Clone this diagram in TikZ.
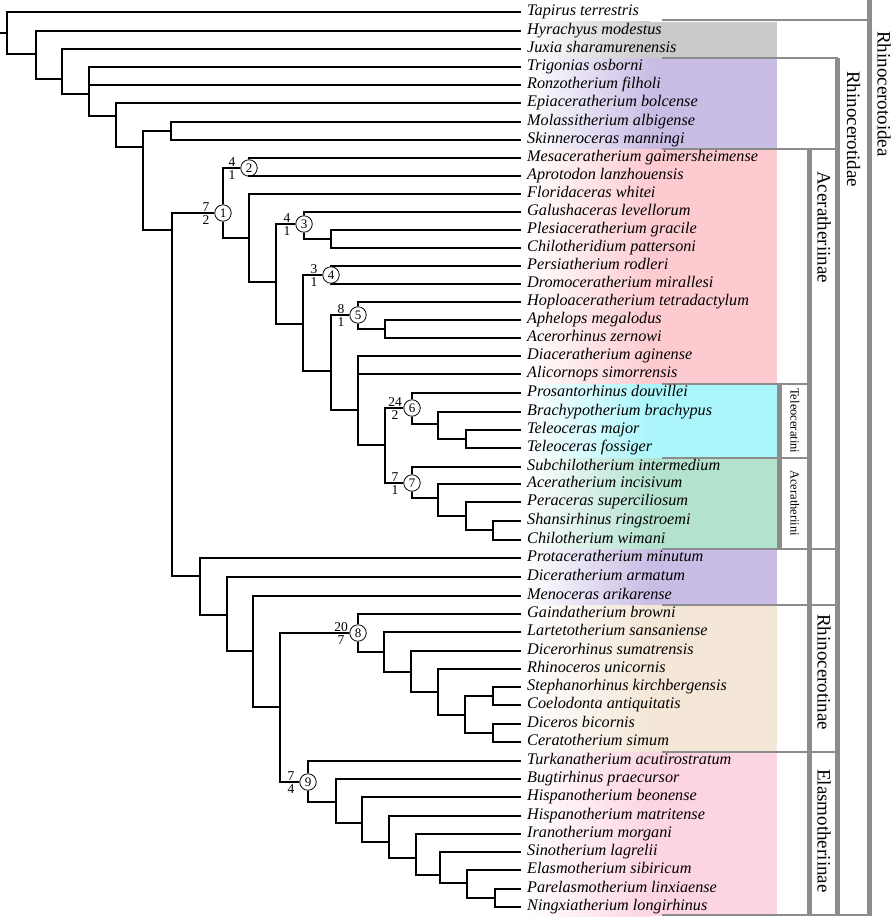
\documentclass[tikz,border=0pt]{standalone}
\usepackage{fontspec}
\setmainfont{Liberation Serif}
\definecolor{bgrey}{RGB}{201,202,202}
\definecolor{blilac}{RGB}{201,189,229}
\definecolor{bpink}{RGB}{253,203,207}
\definecolor{bcyan}{RGB}{170,246,251}
\definecolor{bgreen}{RGB}{179,226,207}
\definecolor{bbeige}{RGB}{244,231,215}
\definecolor{bpinktwo}{RGB}{253,212,228}
\definecolor{bargrey}{RGB}{140,140,140}
\begin{document}
\begin{tikzpicture}[x=1pt,y=-1pt]

    \tikzset{taxon/.style={anchor=west,inner xsep=6pt,inner ysep=0pt,text height=10pt,text depth=3pt,font=\fontsize{16.2}{17}\selectfont\itshape},
        clade/.style={draw,circle,fill=white,line width=0.8pt,inner sep=0pt,minimum size=16.5pt,font=\fontsize{13}{13}\selectfont},
        supp/.style={inner sep=0.5pt,font=\fontsize{13.5}{14}\selectfont},
        grouplabel/.style={rotate=-90,anchor=west,inner sep=0pt,font=\fontsize{19}{19}\selectfont},
        tribelabel/.style={rotate=-90,anchor=west,inner sep=0pt,font=\fontsize{12.5}{13}\selectfont},
        greybar/.style={draw=bargrey,line width=5pt},
        sepline/.style={draw=bargrey,line width=2pt}}
    \useasboundingbox (0,0) rectangle (896,919);

    % coloured bands behind the names
    \foreach \col/\ya/\yb in {bgrey/21.5/58,blilac/58/149,bpink/149/384,bcyan/384/458,bgreen/458/549,blilac/549/605,bbeige/605/752,bpinktwo/752/916}
    {
        \shade[left color=white,right color=\col] (526,\ya) rectangle (650,\yb);
        \fill[\col] (649.5,\ya) rectangle (777,\yb);
    }
    \foreach \ya/\xb in {20/869.5,58/837.5,149/837.5,384/809.5,458/809.5,549/837.5,605/837.5,752/837.5,915/872}
        \draw[sepline] (662,\ya) -- (\xb,\ya);
    \draw[greybar] (869.5,0) -- (869.5,916);
    \draw[greybar] (837.5,58) -- (837.5,916);
    \draw[greybar] (809.5,149) -- (809.5,916);
    \draw[greybar,line width=4.5pt] (779.5,384) -- (779.5,549);

    \node[grouplabel] (l1) at (884,31) {Rhinocerotoidea};
    \node[grouplabel] (l2) at (853.5,71) {Rhinocerotidae};
    \node[grouplabel] (l3) at (824,171) {Aceratheriinae};
    \node[grouplabel] (l4) at (824,614) {Rhinocerotinae};
    \node[grouplabel] (l5) at (824,769) {Elasmotheriinae};
    \node[tribelabel] (l6) at (795,388) {Teleoceratini};
    \node[tribelabel] (l7) at (795,470) {Aceratheriini};

    % terminal taxa
    \foreach \name/\ypos [count=\i] in {Tapirus terrestris/12,Hyrachyus modestus/31,Juxia sharamurenensis/49,
        Trigonias osborni/67,Ronzotherium filholi/85,Epiaceratherium bolcense/103,Molassitherium albigense/122,
        Skinneroceras manningi/140,Mesaceratherium gaimersheimense/158,Aprotodon lanzhouensis/176,
        Floridaceras whitei/194,Galushaceras levellorum/212,Plesiaceratherium gracile/230,
        Chilotheridium pattersoni/248,Persiatherium rodleri/266,Dromoceratherium mirallesi/284,
        Hoploaceratherium tetradactylum/302,Aphelops megalodus/320,Acerorhinus zernowi/338,
        Diaceratherium aginense/356,Alicornops simorrensis/374,Prosantorhinus douvillei/393,
        Brachypotherium brachypus/412,Teleoceras major/430,Teleoceras fossiger/448,
        Subchilotherium intermedium/467,Aceratherium incisivum/484,Peraceras superciliosum/502,
        Shansirhinus ringstroemi/521,Chilotherium wimani/540,Protaceratherium minutum/558,
        Diceratherium armatum/577,Menoceras arikarense/596,Gaindatherium browni/614,
        Lartetotherium sansaniense/632,Dicerorhinus sumatrensis/651,Rhinoceros unicornis/669,
        Stephanorhinus kirchbergensis/687,Coelodonta antiquitatis/705,Diceros bicornis/724,
        Ceratotherium simum/742,Turkanatherium acutirostratum/761,Bugtirhinus praecursor/779,
        Hispanotherium beonense/797,Hispanotherium matritense/816,Iranotherium morgani/834,
        Sinotherium lagrelii/852,Elasmotherium sibiricum/870,Parelasmotherium linxiaense/889,
        Ningxiatherium longirhinus/907}
        \node[taxon] (t\i) at (521,\ypos) {\name};

    % inner nodes
    \coordinate (n0) at (0,33);
    \coordinate (n1) at (7,33);
    \coordinate (n2) at (36,54);
    \coordinate (n3) at (62,79);
    \coordinate (n4) at (89,94);
    \coordinate (n5) at (116,116);
    \coordinate (n6) at (143,147);
    \coordinate (n7) at (171,131);
    \coordinate (n8) at (172,230);
    \node[clade] (c1) at (223,213) {1};
    \node[clade] (c2) at (249,168) {2};
    \coordinate (n9) at (249,238);
    \coordinate (n10) at (276,282);
    \node[clade] (c3) at (304,224) {3};
    \coordinate (n11) at (331,239);
    \coordinate (n12) at (303,324);
    \node[clade] (c4) at (331,275) {4};
    \coordinate (n13) at (331,371);
    \node[clade] (c5) at (358,315) {5};
    \coordinate (n14) at (385,329);
    \coordinate (n15) at (358,410);
    \coordinate (n16) at (385,445);
    \node[clade] (c6) at (412,408) {6};
    \coordinate (n17) at (438,424);
    \coordinate (n18) at (466,439);
    \node[clade] (c7) at (412,483) {7};
    \coordinate (n19) at (438,498);
    \coordinate (n20) at (466,516);
    \coordinate (n21) at (493,530);
    \coordinate (n22) at (200,576);
    \coordinate (n23) at (227,615);
    \coordinate (n24) at (253,651);
    \coordinate (n25) at (280,707);
    \node[clade] (c8) at (358,633) {8};
    \coordinate (n26) at (384,652);
    \coordinate (n27) at (411,672);
    \coordinate (n28) at (438,692);
    \coordinate (n29) at (465,715);
    \coordinate (n30) at (493,696);
    \coordinate (n31) at (493,733);
    \node[clade] (c9) at (308,782) {9};
    \coordinate (n32) at (336,802);
    \coordinate (n33) at (362,823);
    \coordinate (n34) at (389,842);
    \coordinate (n35) at (416,858);
    \coordinate (n36) at (440,875);
    \coordinate (n37) at (467,883);
    \coordinate (n38) at (495,898);

    \begin{scope}[line width=1.3pt]
        \foreach \a/\b in {n0/n1,n1/t1,n1/n2,n2/t2,n2/n3,n3/t3,n3/n4,n4/t4,n4/t5,n4/n5,n5/t6,n5/n6,
            n6/n7,n6/n8,n7/t7,n7/t8,n8/c1,n8/n22,c1/c2,c1/n9,c2/t9,c2/t10,n9/t11,n9/n10,
            n10/c3,n10/n12,c3/t12,c3/n11,n11/t13,n11/t14,n12/c4,n12/n13,c4/t15,c4/t16,
            n13/c5,n13/n15,c5/t17,c5/n14,n14/t18,n14/t19,n15/t20,n15/t21,n15/n16,
            n16/c6,n16/c7,c6/t22,c6/n17,n17/t23,n17/n18,n18/t24,n18/t25,
            c7/t26,c7/n19,n19/t27,n19/n20,n20/t28,n20/n21,n21/t29,n21/t30,
            n22/t31,n22/n23,n23/t32,n23/n24,n24/t33,n24/n25,n25/c8,n25/c9,
            c8/t34,c8/n26,n26/t35,n26/n27,n27/t36,n27/n28,n28/t37,n28/n29,
            n29/n30,n29/n31,n30/t38,n30/t39,n31/t40,n31/t41,
            c9/t42,c9/n32,n32/t43,n32/n33,n33/t44,n33/n34,n34/t45,n34/n35,
            n35/t46,n35/n36,n36/t47,n36/n37,n37/t48,n37/n38,n38/t49,n38/t50}
            \draw (\a) |- (\b);
    \end{scope}

    % support values beside the numbered clades
    \foreach \c/\up/\dn in {c1/7/2,c2/4/1,c3/4/1,c4/3/1,c5/8/1,c6/24/2,c7/7/1,c8/20/7,c9/7/4}
    {
        \node[supp,anchor=south] at ([xshift=-17pt,yshift=1pt]\c.center) {\up};
        \node[supp,anchor=north] at ([xshift=-17pt,yshift=-1.5pt]\c.center) {\dn};
    }
\end{tikzpicture}
\end{document}
